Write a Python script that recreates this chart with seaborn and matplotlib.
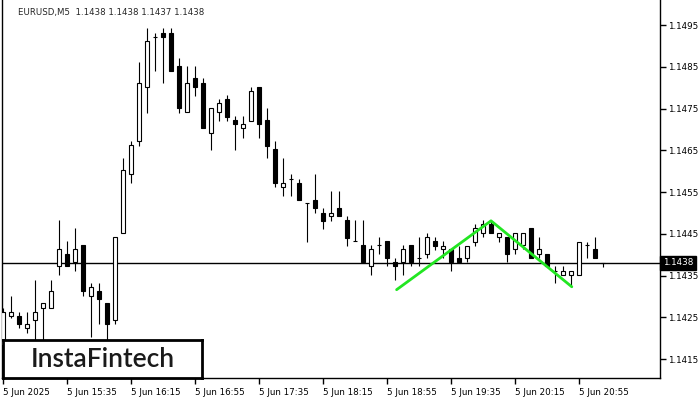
import numpy as np
import pandas as pd
import seaborn as sns
import matplotlib.pyplot as plt
import matplotlib.transforms as mtransforms

# EURUSD M5 candles, 5 Jun 2025, first candle 14:55
opens = [1.14184, 1.14253, 1.14253, 1.14224, 1.14243, 1.14272, 1.14272, 1.14372,
         1.14401, 1.14382, 1.14423, 1.14302, 1.14312, 1.14284, 1.14243, 1.14452,
         1.14593, 1.14672, 1.14802, 1.14921, 1.14931, 1.14931, 1.14852, 1.14742,
         1.14823, 1.14811, 1.14691, 1.14742, 1.14773, 1.14722, 1.14703, 1.14720,
         1.14802, 1.14722, 1.14653, 1.14562, 1.14581, 1.14572, 1.14524, 1.14531,
         1.14500, 1.14493, 1.14512, 1.14483, 1.14433, 1.14423, 1.14372, 1.14423,
         1.14433, 1.14382, 1.14382, 1.14423, 1.14392, 1.14401, 1.14433, 1.14413,
         1.14413, 1.14392, 1.14392, 1.14430, 1.14452, 1.14473, 1.14442, 1.14442,
         1.14413, 1.14423, 1.14464, 1.14401, 1.14401, 1.14361, 1.14352, 1.14352,
         1.14352, 1.14423, 1.14413, 1.14380]
highs = [1.14272, 1.14302, 1.14263, 1.14263, 1.14340, 1.14284, 1.14340, 1.14483,
         1.14433, 1.14464, 1.14423, 1.14332, 1.14332, 1.14284, 1.14442, 1.14631,
         1.14672, 1.14861, 1.14943, 1.14931, 1.14943, 1.14943, 1.14871, 1.14852,
         1.14852, 1.14823, 1.14751, 1.14773, 1.14782, 1.14732, 1.14732, 1.14802,
         1.14802, 1.14751, 1.14672, 1.14631, 1.14593, 1.14581, 1.14524, 1.14593,
         1.14512, 1.14552, 1.14552, 1.14493, 1.14483, 1.14483, 1.14423, 1.14442,
         1.14433, 1.14392, 1.14423, 1.14423, 1.14442, 1.14452, 1.14442, 1.14433,
         1.14413, 1.14421, 1.14421, 1.14473, 1.14483, 1.14483, 1.14452, 1.14442,
         1.14452, 1.14452, 1.14464, 1.14442, 1.14401, 1.14372, 1.14372, 1.14361,
         1.14430, 1.14430, 1.14442, 1.14380]
lows = [1.14172, 1.14248, 1.14224, 1.14212, 1.14184, 1.14191, 1.14272, 1.14352,
        1.14372, 1.14361, 1.14302, 1.14203, 1.14234, 1.14184, 1.14234, 1.14452,
        1.14572, 1.14660, 1.14739, 1.14840, 1.14811, 1.14840, 1.14739, 1.14742,
        1.14780, 1.14703, 1.14651, 1.14720, 1.14720, 1.14651, 1.14679, 1.14720,
        1.14679, 1.14631, 1.14562, 1.14540, 1.14540, 1.14531, 1.14430, 1.14500,
        1.14461, 1.14481, 1.14493, 1.14421, 1.14433, 1.14382, 1.14352, 1.14401,
        1.14372, 1.14340, 1.14352, 1.14372, 1.14372, 1.14392, 1.14411, 1.14392,
        1.14361, 1.14382, 1.14382, 1.14421, 1.14442, 1.14452, 1.14430, 1.14382,
        1.14401, 1.14413, 1.14392, 1.14392, 1.14372, 1.14332, 1.14352, 1.14322,
        1.14352, 1.14392, 1.14392, 1.14370]
closes = [1.14263, 1.14263, 1.14234, 1.14234, 1.14263, 1.14284, 1.14312, 1.14413,
          1.14372, 1.14413, 1.14312, 1.14322, 1.14294, 1.14234, 1.14442, 1.14603,
          1.14663, 1.14811, 1.14912, 1.14921, 1.14921, 1.14840, 1.14751, 1.14811,
          1.14802, 1.14703, 1.14751, 1.14763, 1.14730, 1.14713, 1.14713, 1.14792,
          1.14713, 1.14660, 1.14572, 1.14572, 1.14581, 1.14531, 1.14524, 1.14512,
          1.14481, 1.14500, 1.14493, 1.14440, 1.14433, 1.14382, 1.14413, 1.14423,
          1.14392, 1.14372, 1.14413, 1.14382, 1.14392, 1.14442, 1.14421, 1.14421,
          1.14382, 1.14382, 1.14421, 1.14464, 1.14473, 1.14452, 1.14452, 1.14401,
          1.14452, 1.14452, 1.14392, 1.14413, 1.14372, 1.14361, 1.14361, 1.14361,
          1.14430, 1.14423, 1.14392, 1.14380]

time_labels = ["5 Jun 2025", "5 Jun 15:35", "5 Jun 16:15", "5 Jun 16:55", "5 Jun 17:35",
               "5 Jun 18:15", "5 Jun 18:55", "5 Jun 19:35", "5 Jun 20:15", "5 Jun 20:55"]
price_ticks = [1.1415, 1.1425, 1.1435, 1.1445, 1.1455, 1.1465, 1.1475, 1.1485, 1.1495]

# double top pattern (candle index, price)
pattern_idx = [49.2, 61.0, 71.1]
pattern_price = [1.14316, 1.14481, 1.14323]

last_price = 1.1438
title = "EURUSD,M5  1.1438 1.1438 1.1437 1.1438"

df = pd.DataFrame({"open": opens, "high": highs, "low": lows, "close": closes})
df["idx"] = np.arange(len(df))
df["bull"] = df["close"] >= df["open"]

sns.set_style("white")
plt.rcParams["font.family"] = ["DejaVu Sans"]

fig = plt.figure(figsize=(7, 4), dpi=100)
ax = fig.add_axes([2 / 700, 22 / 400, 658 / 700, 378 / 400])

# last price line
ax.axhline(last_price, color="black", lw=1, zorder=1)

# wicks and bodies
ax.vlines(df["idx"], df["low"], df["high"], color="black", lw=0.8, zorder=2)
body_bottom = df[["open", "close"]].min(axis=1)
body_height = (df["close"] - df["open"]).abs()
face = np.where(df["bull"], "white", "black")
ax.bar(df["idx"], body_height, bottom=body_bottom, width=0.6, color=face,
       edgecolor="black", linewidth=0.8, zorder=3)

# pattern line
sns.lineplot(x=pattern_idx, y=pattern_price, ax=ax, color="#22e622", lw=2,
             zorder=4, sort=False)

ax.set_xlim(-0.125, 82.125)
ax.set_ylim(1.141045, 1.150099)

ax.set_xticks(np.arange(0, 8 * len(time_labels), 8))
ax.set_xticklabels(time_labels, ha="left")
ax.yaxis.tick_right()
ax.set_yticks(price_ticks)
ax.set_yticklabels([f"{p:.4f}" for p in price_ticks])
ax.tick_params(axis="both", direction="out", length=4, width=1, color="black",
               labelsize=6.3, pad=2, labelcolor="black")
ax.tick_params(axis="x", bottom=True, pad=3)
ax.tick_params(axis="y", right=True, left=False)
for side in ["left", "right", "bottom"]:
    ax.spines[side].set_color("black")
    ax.spines[side].set_linewidth(1)
ax.spines["top"].set_visible(False)
ax.set_xlabel("")
ax.set_ylabel("")

# current price tag
trans = mtransforms.blended_transform_factory(ax.transAxes, ax.transData)
ax.text(1.004, last_price, "1.1438", transform=trans, color="white", fontsize=6.3,
        va="center", ha="left",
        bbox=dict(facecolor="black", edgecolor="black", pad=1.8), zorder=5)

fig.text(18 / 700, 1 - 13 / 400, title, fontsize=6.2, va="center", ha="left")

# logo box
logo = fig.add_axes([3 / 700, 22 / 400, 199 / 700, 38 / 400])
logo.set_xticks([])
logo.set_yticks([])
logo.set_facecolor("white")
for s in logo.spines.values():
    s.set_linewidth(2)
    s.set_color("black")
logo.text(0.5, 0.48, "InstaFintech", fontsize=19, family="Lato", weight="semibold",
          color="#1a1a1a", ha="center", va="center")

fig.savefig("out.png", dpi=100)
